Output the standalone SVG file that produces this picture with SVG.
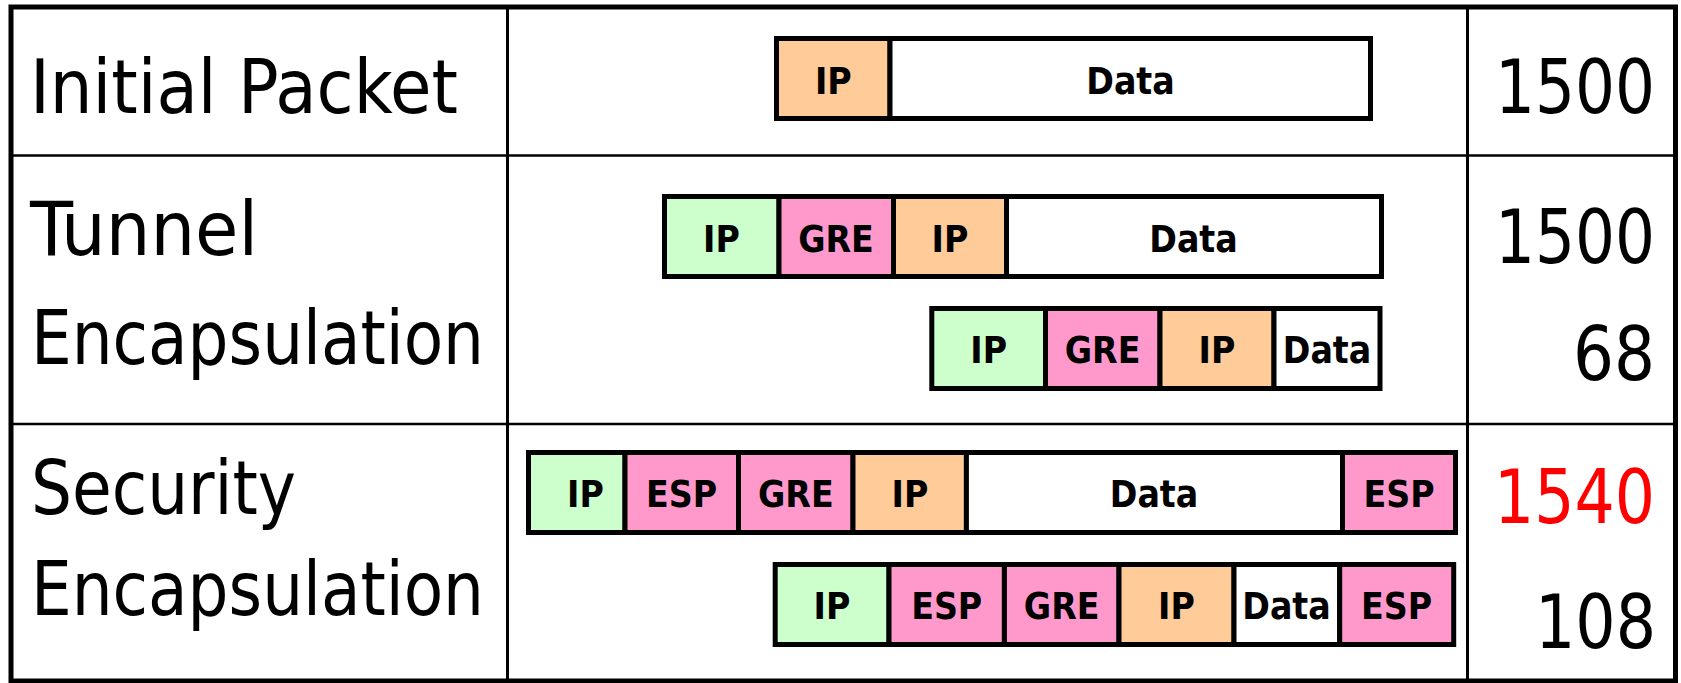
<svg xmlns="http://www.w3.org/2000/svg" width="1681" height="683" viewBox="0 0 1681 683">
<style>
.grid{stroke:#000;fill:none}
.seg{stroke:#000;stroke-width:5}
.g{fill:#CCFFCC}.p{fill:#FF99CC}.o{fill:#FFCC99}.w{fill:#FFFFFF}
.lbl{font-family:"DejaVu Sans Condensed","DejaVu Sans",sans-serif;font-stretch:condensed;font-weight:bold;font-size:37px;text-anchor:middle;fill:#000}
.big{font-family:"DejaVu Sans Condensed","DejaVu Sans",sans-serif;font-stretch:condensed;font-size:74px;fill:#000}
</style>
<rect width="1681" height="683" fill="#fff"/>
<g id="table">
<rect class="grid" x="11" y="7" width="1664.5" height="674" stroke-width="5"/>
<line class="grid" x1="507.5" y1="7" x2="507.5" y2="681" stroke-width="3"/>
<line class="grid" x1="1467.5" y1="7" x2="1467.5" y2="681" stroke-width="3"/>
<line class="grid" x1="11" y1="155.5" x2="1675" y2="155.5" stroke-width="2.5"/>
<line class="grid" x1="11" y1="424" x2="1675" y2="424" stroke-width="2.5"/>
</g>
<g id="row-labels">
<text class="big" x="30" y="113.3" textLength="428" lengthAdjust="spacingAndGlyphs">Initial Packet</text>
<text class="big" x="30" y="255" textLength="228" lengthAdjust="spacingAndGlyphs">Tunnel</text>
<text class="big" x="31" y="363.5" textLength="453" lengthAdjust="spacingAndGlyphs">Encapsulation</text>
<text class="big" x="31" y="514" textLength="265" lengthAdjust="spacingAndGlyphs">Security</text>
<text class="big" x="31" y="615" textLength="453" lengthAdjust="spacingAndGlyphs">Encapsulation</text>
</g>
<g id="sizes">
<text class="big" x="1495" y="113" textLength="160" lengthAdjust="spacingAndGlyphs">1500</text>
<text class="big" x="1495" y="263" textLength="160" lengthAdjust="spacingAndGlyphs">1500</text>
<text class="big" x="1573" y="380" textLength="82" lengthAdjust="spacingAndGlyphs">68</text>
<text class="big" x="1494" y="522.7" textLength="161" lengthAdjust="spacingAndGlyphs" style="fill:#FF0000">1540</text>
<text class="big" x="1535" y="648" textLength="121" lengthAdjust="spacingAndGlyphs">108</text>
</g>
<g id="packet-initial">
<rect class="seg o" x="776.5" y="38.5" width="113.5" height="80"/>
<rect class="seg w" x="890" y="38.5" width="480.5" height="80"/>
<text class="lbl" x="833.3" y="94">IP</text>
<text class="lbl" x="1130.5" y="94">Data</text>
</g>
<g id="packet-tunnel-1500">
<rect class="seg g" x="664.5" y="196.5" width="114.5" height="80"/>
<rect class="seg p" x="779" y="196.5" width="114.5" height="80"/>
<rect class="seg o" x="893.5" y="196.5" width="113" height="80"/>
<rect class="seg w" x="1006.5" y="196.5" width="375" height="80"/>
<text class="lbl" x="721.5" y="251.7">IP</text>
<text class="lbl" x="836" y="251.7">GRE</text>
<text class="lbl" x="950" y="251.7">IP</text>
<text class="lbl" x="1193.5" y="251.7">Data</text>
</g>
<g id="packet-tunnel-68">
<rect class="seg g" x="931.8" y="308.5" width="113.7" height="80"/>
<rect class="seg p" x="1045.5" y="308.5" width="114.5" height="80"/>
<rect class="seg o" x="1160" y="308.5" width="114" height="80"/>
<rect class="seg w" x="1274" y="308.5" width="106" height="80"/>
<text class="lbl" x="988.7" y="363.3">IP</text>
<text class="lbl" x="1102.6" y="363.3">GRE</text>
<text class="lbl" x="1217" y="363.3">IP</text>
<text class="lbl" x="1327" y="363.3">Data</text>
</g>
<g id="packet-security-1540">
<rect class="seg g" x="528.5" y="452.5" width="96.5" height="80"/>
<rect class="seg p" x="625" y="452.5" width="113.5" height="80"/>
<rect class="seg p" x="738.5" y="452.5" width="114.5" height="80"/>
<rect class="seg o" x="853" y="452.5" width="113.4" height="80"/>
<rect class="seg w" x="966.4" y="452.5" width="376.1" height="80"/>
<rect class="seg p" x="1342.5" y="452.5" width="113" height="80"/>
<text class="lbl" x="585.5" y="507.3">IP</text>
<text class="lbl" x="681.5" y="507.3">ESP</text>
<text class="lbl" x="795.8" y="507.3">GRE</text>
<text class="lbl" x="910" y="507.3">IP</text>
<text class="lbl" x="1154" y="507.3">Data</text>
<text class="lbl" x="1399" y="507.3">ESP</text>
</g>
<g id="packet-security-108">
<rect class="seg g" x="775.2" y="564.5" width="113.8" height="80"/>
<rect class="seg p" x="889" y="564.5" width="115.4" height="80"/>
<rect class="seg p" x="1004.4" y="564.5" width="114.6" height="80"/>
<rect class="seg o" x="1119" y="564.5" width="115" height="80"/>
<rect class="seg w" x="1234" y="564.5" width="105.7" height="80"/>
<rect class="seg p" x="1339.7" y="564.5" width="114" height="80"/>
<text class="lbl" x="832" y="618.5">IP</text>
<text class="lbl" x="946.7" y="618.5">ESP</text>
<text class="lbl" x="1061.7" y="618.5">GRE</text>
<text class="lbl" x="1176.5" y="618.5">IP</text>
<text class="lbl" x="1286.5" y="618.5">Data</text>
<text class="lbl" x="1396.5" y="618.5">ESP</text>
</g>
</svg>
